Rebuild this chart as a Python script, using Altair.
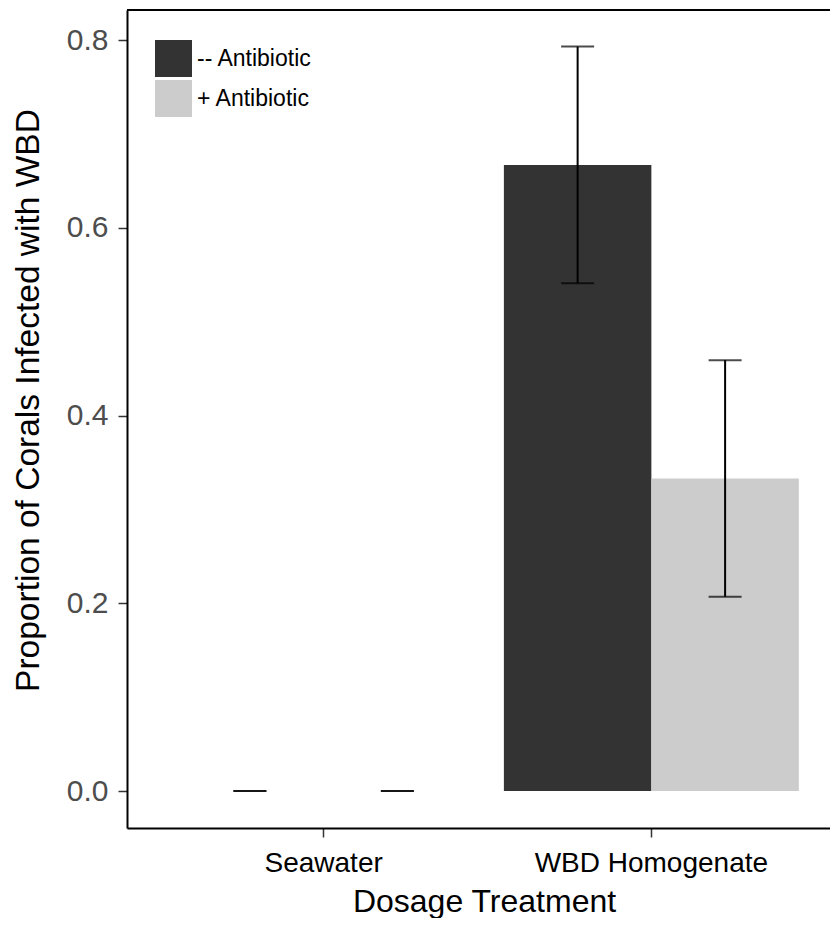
import altair as alt
import pandas as pd

dosage = ["Seawater", "Seawater", "WBD Homogenate", "WBD Homogenate"]
antibiotic = ["-- Antibiotic", "+ Antibiotic", "-- Antibiotic", "+ Antibiotic"]
proportion = [0.0, 0.0, 0.667, 0.333]
std_err = [0.0, 0.0, 0.126, 0.126]

groups = ["-- Antibiotic", "+ Antibiotic"]
colors = ["#333333", "#CCCCCC"]
y_ticks = [0.0, 0.2, 0.4, 0.6, 0.8]

df = pd.DataFrame({"Dosage": dosage, "Antibiotic": antibiotic,
                   "Proportion": proportion, "SE": std_err})
df["lo"] = df["Proportion"] - df["SE"]
df["hi"] = df["Proportion"] + df["SE"]

FONT = "Liberation Sans, Arial, Helvetica, sans-serif"
W, H = 703, 818

xscale = alt.Scale(domain=["Seawater", "WBD Homogenate"], range=[0, 721],
                   paddingInner=0.1, paddingOuter=0.15)
yscale = alt.Scale(domain=[-0.0394, 0.832], nice=False, zero=False)
offscale = alt.Scale(domain=groups, paddingInner=0, paddingOuter=0)

x_enc = alt.X("Dosage:N", scale=xscale, sort=["Seawater", "WBD Homogenate"],
              axis=alt.Axis(title="Dosage Treatment", labelAngle=0, labelFont=FONT,
                            labelFontSize=28, labelColor="#000000", labelPadding=12,
                            labelLimit=0,
                            tickSize=9, tickColor="#333333", tickWidth=1.5,
                            domainColor="#000000", domainWidth=2,
                            titleFont=FONT, titleFontSize=32, titleFontWeight="normal",
                            titleColor="#000000", titleBaseline="alphabetic",
                            titleX=357, titleY=83))
xo_enc = alt.XOffset("Antibiotic:N", scale=offscale, sort=groups)

bars = alt.Chart(df).mark_bar().encode(
    x=x_enc,
    xOffset=xo_enc,
    y=alt.Y("Proportion:Q", scale=yscale,
            axis=alt.Axis(title="Proportion of Corals Infected with WBD", values=y_ticks,
                          format=".1f", grid=False, labelFont=FONT, labelFontSize=30,
                          labelColor="#4D4D4D", labelPadding=10, tickSize=9,
                          tickColor="#333333", tickWidth=1.5, domainColor="#000000",
                          domainWidth=2, titleFont=FONT, titleFontSize=33.5,
                          titleFontWeight="normal", titleColor="#000000",
                          titleBaseline="middle", titleX=-99, titleY=390,
                          titleLimit=0)),
    y2=alt.datum(0),
    color=alt.Color("Antibiotic:N", scale=alt.Scale(domain=groups, range=colors),
                    legend=alt.Legend(title=None, orient="none", legendX=28, legendY=30,
                                      symbolType="square", symbolSize=1369,
                                      symbolStrokeWidth=0, labelFont=FONT,
                                      labelFontSize=23, labelColor="#000000",
                                      labelOffset=5, rowPadding=3, padding=0,
                                      labelLimit=0)),
)

stems = alt.Chart(df).mark_rule(color="black", strokeWidth=2).encode(
    x=alt.X("Dosage:N", scale=xscale, sort=["Seawater", "WBD Homogenate"]),
    xOffset=xo_enc,
    y=alt.Y("lo:Q", scale=yscale),
    y2="hi:Q",
)

caps_lo = alt.Chart(df).mark_tick(color="black", size=33, thickness=2).encode(
    x=alt.X("Dosage:N", scale=xscale, sort=["Seawater", "WBD Homogenate"]),
    xOffset=xo_enc,
    y=alt.Y("lo:Q", scale=yscale),
)
caps_hi = alt.Chart(df).mark_tick(color="black", size=33, thickness=2).encode(
    x=alt.X("Dosage:N", scale=xscale, sort=["Seawater", "WBD Homogenate"]),
    xOffset=xo_enc,
    y=alt.Y("hi:Q", scale=yscale),
)

top_line = alt.Chart(df).mark_rule(color="black", strokeWidth=2).encode(
    x=alt.value(0), x2=alt.value(760), y=alt.value(0)
)

chart = alt.layer(bars, stems, caps_lo, caps_hi, top_line).properties(
    width=W, height=H,
    autosize=alt.AutoSizeParams(type="none"),
    padding={"left": 119, "top": 2, "right": 0, "bottom": 90},
).configure_view(stroke=None).configure(background="white")

chart.save("out.html", embed_options={"renderer": "svg", "actions": False})
